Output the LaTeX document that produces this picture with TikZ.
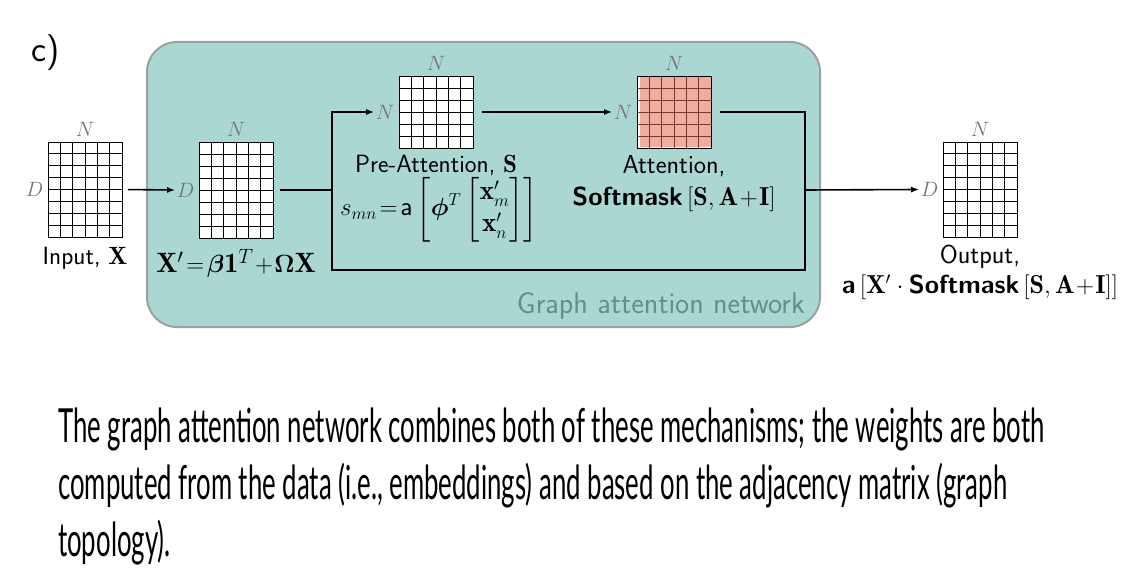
\documentclass[tikz,border=0pt]{standalone}
\usepackage{amsmath, amssymb}
\usepackage{fontspec}
\usetikzlibrary{arrows.meta, positioning, calc}
\newfontfamily\capfont[FakeStretch=0.548]{Lato}
\definecolor{gatteal}{RGB}{171,215,211}
\definecolor{gatedge}{RGB}{155,160,160}
\definecolor{gattext}{RGB}{95,145,140}
\definecolor{attpink}{RGB}{240,172,158}
\definecolor{attgrid}{RGB}{120,55,45}
\newcommand*{\matgrid}[4][black]{%
  \foreach \k in {1,...,#3}
    \draw[line width=0.8pt, #1] ($(#2.north west)!\k/#3!(#2.north east)$) -- ($(#2.south west)!\k/#3!(#2.south east)$);
  \foreach \k in {1,...,#4}
    \draw[line width=0.8pt, #1] ($(#2.north west)!\k/#4!(#2.south west)$) -- ($(#2.north east)!\k/#4!(#2.south east)$);
}

\begin{document}
\begin{tikzpicture}[x=1pt,y=-1pt,>={Latex[length=8pt,width=6pt]},
    mat/.style={draw, line width=0.8pt, fill=white, inner sep=0pt, outer sep=0pt},
    dimlbl/.style={text=black!55, font=\fontsize{20}{20}\selectfont, inner sep=1.5pt},
    lbl/.style={font=\sffamily\fontsize{25}{30}\selectfont, align=center, inner sep=1pt},
    biglbl/.style={font=\sffamily\fontsize{26}{32}\selectfont, align=center, inner sep=1pt},
    wire/.style={line width=1.6pt}]
  \useasboundingbox (0,0) rectangle (1136,586);

  % network box
  \draw[fill=gatteal, draw=gatedge, line width=2pt, rounded corners=30pt] (147,42) rectangle (820,327);
  \node[anchor=base east, text=gattext, font=\sffamily\fontsize{30}{30}\selectfont, inner sep=0pt] (gat) at (805,313) {Graph attention network};
  \node[anchor=base west, font=\sffamily\fontsize{36}{36}\selectfont, inner sep=0pt] (tag) at (31,62) {c)};

  % matrices
  \node[mat, minimum width=74pt, minimum height=95pt] (X) at (85,189.5) {};
  \node[mat, minimum width=74pt, minimum height=96pt] (Xp) at (236,190) {};
  \node[mat, minimum width=74pt, minimum height=72pt] (S) at (436,112) {};
  \node[mat, minimum width=74pt, minimum height=72pt] (A) at (674,112) {};
  \node[mat, minimum width=74pt, minimum height=95pt] (Y) at (980,189.5) {};
  \fill[attpink] ($(A.north west)+(3,0)$) rectangle ($(A.south east)+(0,-1.5)$);
  \matgrid{X}{6}{8}
  \matgrid{Xp}{6}{8}
  \matgrid{S}{6}{6}
  \matgrid[attgrid]{A}{6}{6}
  \draw[line width=0.8pt] (A.north west) rectangle (A.south east);
  \matgrid{Y}{6}{8}

  \foreach \m/\l in {X/D, Xp/D, S/N, A/N, Y/D} {
    \node[dimlbl, above=4pt of \m] (\m-top) {$N$};
    \node[dimlbl, left=3pt of \m] (\m-left) {$\l$};
  }

  % labels
  \node[lbl, below=9pt of X] (X-lbl) {Input, $\mathbf{X}$};
  \node[biglbl, below=10pt of Xp, font=\fontsize{28}{32}\selectfont] (Xp-lbl) {$\mathbf{X}'\!=\!\boldsymbol{\beta}\mathbf{1}^T\!+\!\boldsymbol{\Omega}\mathbf{X}$};
  \node[lbl, below=6pt of S] (S-lbl) {Pre-Attention, $\mathbf{S}$};
  \node[biglbl, below=-1pt of S-lbl, xshift=3pt, font=\sffamily\fontsize{27}{32}\selectfont] (S-eq) {$s_{mn}\!=\!\mathsf{a}\left[\boldsymbol{\phi}^T\begin{bmatrix}\mathbf{x}'_m\\ \mathbf{x}'_n\end{bmatrix}\right]$};
  \node[biglbl, below=6pt of A] (A-lbl) {Attention,\\ \textbf{Softmask}\,$[\mathbf{S},\mathbf{A}\!+\!\mathbf{I}]$};
  \node[biglbl, below=7pt of Y, font=\sffamily\fontsize{26}{30}\selectfont] (Y-lbl) {Output,\\ \textbf{a}\,$[\mathbf{X}'\cdot\textbf{Softmask}\,[\mathbf{S},\mathbf{A}\!+\!\mathbf{I}]]$};

  % connectors
  \coordinate (jin) at (332,190);
  \coordinate (jbot) at (332,270);
  \coordinate (jout) at (805,190);
  \draw[wire, ->, shorten <=6pt] (X.east) -- (Xp-left.west);
  \draw[wire, shorten <=7pt] (Xp.east) -- (jin);
  \draw[wire, ->] (jin) |- (S-left.west);
  \draw[wire] (jin) -- (jbot) -| (jout);
  \draw[wire, ->, shorten <=9pt] (S.east) -- (A-left.west);
  \draw[wire, shorten <=9pt] (A.east) -| (jout);
  \draw[wire, ->] (jout) -- (Y-left.west);

  % caption
  \node[anchor=north west, inner sep=0pt, align=left, font=\capfont\fontsize{47}{57}\selectfont] (cap) at (58,408)
    {The graph attention network combines both of these mechanisms; the weights are both\\
     computed from the data (i.e., embeddings) and based on the adjacency matrix (graph\\
     topology).};
\end{tikzpicture}
\end{document}
